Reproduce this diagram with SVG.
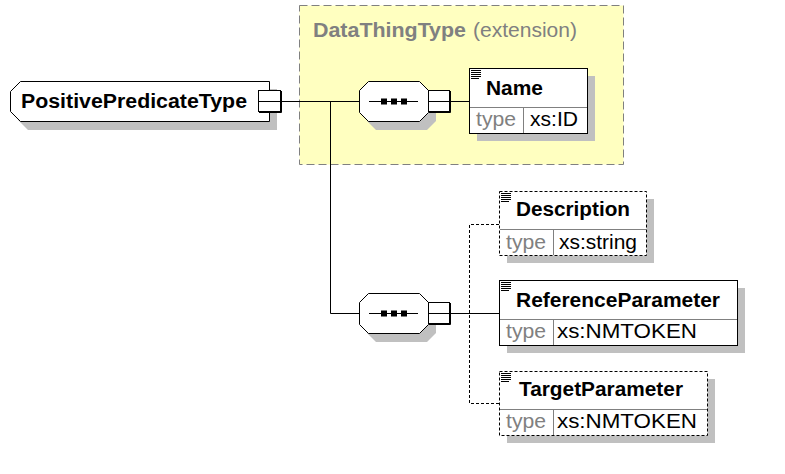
<svg xmlns="http://www.w3.org/2000/svg" xmlns:xlink="http://www.w3.org/1999/xlink" width="785" height="474" viewBox="0 0 785 474">
<style>
.shadow{fill:#C0C0C0;stroke:none}
.box{fill:#FFFFFF;stroke:#000000;stroke-width:1}
.opt{fill:#FFFFFF;stroke:#000000;stroke-width:1;stroke-dasharray:3,2}
.div{stroke:#808080;stroke-width:1;fill:none}
.ln{stroke:#000000;stroke-width:1;fill:none}
.dln{stroke:#000000;stroke-width:1;fill:none;stroke-dasharray:3,2}
.b{font-family:"Liberation Sans",Arial,sans-serif;font-weight:bold;font-size:20px;fill:#000000}
.t{font-family:"Liberation Sans",Arial,sans-serif;font-size:20px;fill:#808080}
.v{font-family:"Liberation Sans",Arial,sans-serif;font-size:20px;fill:#000000}
.g{font-family:"Liberation Sans",Arial,sans-serif;font-weight:bold;font-size:20px;fill:#808080}
.gn{font-family:"Liberation Sans",Arial,sans-serif;font-size:20px;fill:#808080}
</style>
<defs>
<g id="icon"><path d="M0,0.5H10M0,2.5H10M0,4.5H10M0,6.5H10M0,8.5H8" stroke="#000000" stroke-width="1" fill="none"/></g>
<g id="seq">
<polygon class="shadow" points="376,89 427,89 436,98 436,121 427,130 376,130 367,121 367,98"/>
<polygon class="box" points="368.5,81.5 419.5,81.5 428.5,90.5 428.5,112.5 419.5,121.5 368.5,121.5 359.5,112.5 359.5,90.5"/>
<line class="ln" x1="369" y1="101.5" x2="418" y2="101.5"/>
<rect x="381" y="98.5" width="6" height="6" fill="#000000"/>
<rect x="391" y="98.5" width="6" height="6" fill="#000000"/>
<rect x="401" y="98.5" width="6" height="6" fill="#000000"/>
<rect class="box" x="428.5" y="90.5" width="21" height="21"/>
<path d="M450.5,91V112.5H429" class="ln"/>
<line class="ln" x1="429" y1="101.5" x2="450" y2="101.5"/>
</g>
</defs>

<g id="extension">
<rect x="299.5" y="5.5" width="324" height="159" fill="#FFFFC0" stroke="#808080" stroke-width="1" stroke-dasharray="8,4"/>
<text class="g" x="313" y="37" textLength="153" lengthAdjust="spacingAndGlyphs">DataThingType</text>
<text class="gn" x="473" y="37" textLength="104" lengthAdjust="spacingAndGlyphs">(extension)</text>
</g>

<g id="connectors">
<line class="ln" x1="281" y1="101.5" x2="360" y2="101.5"/>
<path class="ln" d="M330.5,101.5V313.5H360"/>
<line class="ln" x1="450" y1="101.5" x2="470" y2="101.5"/>
<line class="ln" x1="450" y1="313.5" x2="500" y2="313.5"/>
<path class="dln" d="M499,224.5H469.5V403.5H499"/>
</g>

<g id="PositivePredicateType">
<polygon class="shadow" points="28,89 277,89 277,130 28,130 18,120 18,98"/>
<polygon class="box" points="20.5,81.5 269.5,81.5 269.5,121.5 20.5,121.5 10.5,111.5 10.5,91.5"/>
<text class="b" x="21" y="108" textLength="226" lengthAdjust="spacingAndGlyphs">PositivePredicateType</text>
<rect class="box" x="258.5" y="90.5" width="22" height="21"/>
<path d="M281.5,91V112.5H259" class="ln"/>
<line class="ln" x1="259" y1="101.5" x2="281" y2="101.5"/>
</g>

<g id="sequence1"><use xlink:href="#seq"/></g>
<g id="sequence2"><use xlink:href="#seq" transform="translate(0,212)"/></g>

<g id="Name">
<rect class="shadow" x="477" y="76" width="118" height="65"/>
<rect class="box" x="469.5" y="68.5" width="118" height="65"/>
<line class="div" x1="470" y1="107.5" x2="587" y2="107.5"/>
<line class="div" x1="523.5" y1="108" x2="523.5" y2="133"/>
<use xlink:href="#icon" x="471" y="70"/>
<text class="b" x="486" y="95" textLength="57" lengthAdjust="spacingAndGlyphs">Name</text>
<text class="t" x="476" y="126" textLength="40" lengthAdjust="spacingAndGlyphs">type</text>
<text class="v" x="530" y="126" textLength="48" lengthAdjust="spacingAndGlyphs">xs:ID</text>
</g>

<g id="Description">
<rect class="shadow" x="507" y="199" width="147" height="64"/>
<rect class="opt" x="499.5" y="191.5" width="147" height="64"/>
<line class="div" x1="500" y1="229.5" x2="646" y2="229.5"/>
<line class="div" x1="553.5" y1="230" x2="553.5" y2="255"/>
<use xlink:href="#icon" x="501" y="193"/>
<text class="b" x="516" y="216" textLength="114" lengthAdjust="spacingAndGlyphs">Description</text>
<text class="t" x="506" y="249" textLength="40" lengthAdjust="spacingAndGlyphs">type</text>
<text class="v" x="559" y="249" textLength="78" lengthAdjust="spacingAndGlyphs">xs:string</text>
</g>

<g id="ReferenceParameter">
<rect class="shadow" x="507" y="288" width="238" height="65"/>
<rect class="box" x="499.5" y="280.5" width="238" height="65"/>
<line class="div" x1="500" y1="319.5" x2="737" y2="319.5"/>
<line class="div" x1="553.5" y1="320" x2="553.5" y2="345"/>
<use xlink:href="#icon" x="501" y="282"/>
<text class="b" x="516" y="307" textLength="204" lengthAdjust="spacingAndGlyphs">ReferenceParameter</text>
<text class="t" x="506" y="338" textLength="40" lengthAdjust="spacingAndGlyphs">type</text>
<text class="v" x="557" y="338" textLength="140" lengthAdjust="spacingAndGlyphs">xs:NMTOKEN</text>
</g>

<g id="TargetParameter">
<rect class="shadow" x="507" y="379" width="208" height="64"/>
<rect class="opt" x="499.5" y="371.5" width="208" height="64"/>
<line class="div" x1="500" y1="409.5" x2="707" y2="409.5"/>
<line class="div" x1="553.5" y1="410" x2="553.5" y2="435"/>
<use xlink:href="#icon" x="501" y="373"/>
<text class="b" x="519" y="396" textLength="164" lengthAdjust="spacingAndGlyphs">TargetParameter</text>
<text class="t" x="506" y="428" textLength="40" lengthAdjust="spacingAndGlyphs">type</text>
<text class="v" x="557" y="428" textLength="140" lengthAdjust="spacingAndGlyphs">xs:NMTOKEN</text>
</g>
</svg>
